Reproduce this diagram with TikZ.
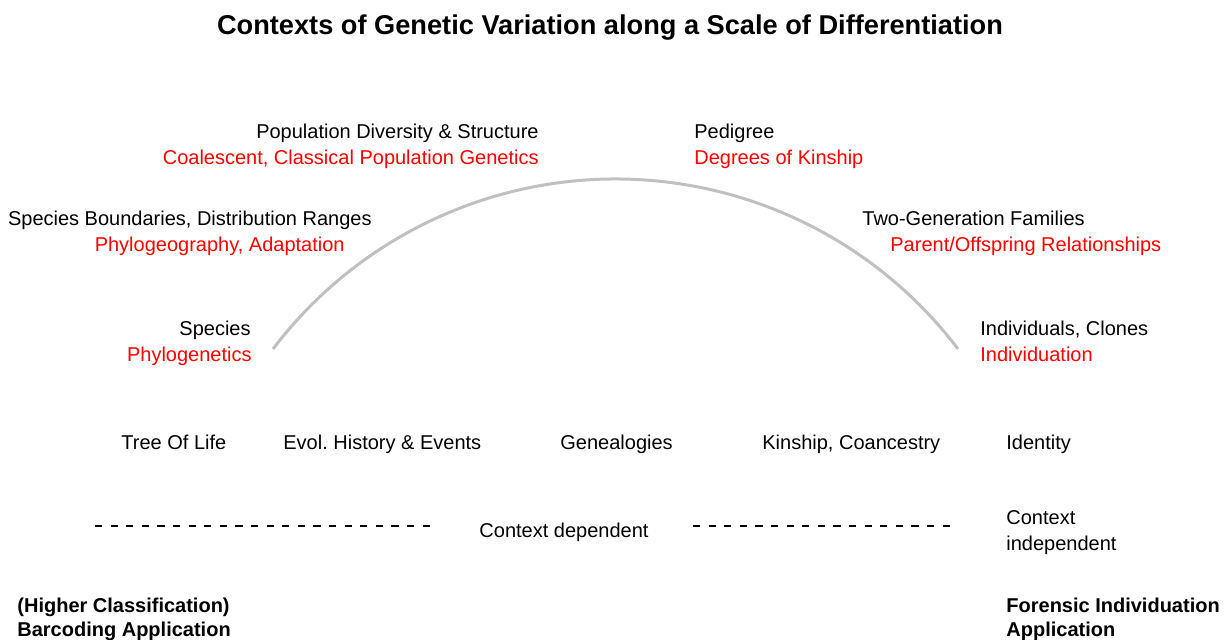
\documentclass[tikz,border=0pt]{standalone}
\usepackage{fontspec}
\setmainfont{Liberation Sans}
\frenchspacing
\definecolor{arcgray}{RGB}{192,192,192}
\definecolor{labred}{RGB}{255,0,0}
\tikzset{
  lbl/.style={inner sep=0pt},
  ctx/.style={lbl,text=labred},
  app/.style={lbl,font=\fontsize{10}{12}\selectfont\bfseries},
  ttlstyle/.style={lbl,font=\fontsize{13.6}{16}\selectfont\bfseries},
  arcline/.style={draw=arcgray,line width=1.5pt},
  dashline/.style={line width=0.55pt,dash pattern=on 3.6pt off 4.2pt},
}
\begin{document}
\begin{tikzpicture}[x=0.5pt,y=-0.5pt,font=\fontsize{10}{12}\selectfont]
	\useasboundingbox (0,0) rectangle (1227,640);
	\node[ttlstyle,anchor=base] (ttl) at (610,35) {Contexts of Genetic Variation along a Scale of Differentiation};
	% the arc
	\coordinate (arcL) at (273,349);
	\coordinate (arcR) at (958,349);
	\draw[arcline] (arcL) arc[start angle=142.8,end angle=37.2,radius=215pt];
	%===========================================
	\node[lbl,anchor=base east] (popdiv) at (539,139) {Population Diversity \& Structure};
	\node[ctx,anchor=base east] (coal) at (539,165) {Coalescent, Classical Population Genetics};
	\node[lbl,anchor=base east] (spbound) at (372,226) {Species Boundaries, Distribution Ranges};
	\node[ctx,anchor=base east] (phygeo) at (345,252) {Phylogeography, Adaptation};
	\node[lbl,anchor=base east] (species) at (251,336) {Species};
	\node[ctx,anchor=base east] (phygen) at (252,362) {Phylogenetics};
	\node[lbl,anchor=base west] (pedig) at (694,139) {Pedigree};
	\node[ctx,anchor=base west] (kinship) at (694,165) {Degrees of Kinship};
	\node[lbl,anchor=base west] (twogen) at (862,226) {Two-Generation Families};
	\node[ctx,anchor=base west] (parent) at (890,252) {Parent/Offspring Relationships};
	\node[lbl,anchor=base west] (indiv) at (980,336) {Individuals, Clones};
	\node[ctx,anchor=base west] (individ) at (980,362) {Individuation};
	%===========================================
	\foreach \txt/\xx/\nm in {Tree Of Life/121/tol,Evol. History \& Events/283/evol,Genealogies/560/geneal,{Kinship, Coancestry}/762/kinco,Identity/1006/ident}
		\node[lbl,anchor=base west] (\nm) at (\xx,450) {\txt};
	\coordinate (dA) at (95,526);  \coordinate (dB) at (432,526);
	\coordinate (dC) at (693,526); \coordinate (dD) at (955,526);
	\draw[dashline] (dA)--(dB);
	\draw[dashline] (dC)--(dD);
	\node[lbl,anchor=base] (ctxdep) at (564,538) {Context dependent};
	\node[lbl,anchor=base west] (ctxind) at (1006,525) {Context};
	\node[lbl,anchor=base west] (ctxind2) at (1006,551) {independent};
	%===========================================
	\node[app,anchor=base west] (barc) at (17,613) {(Higher Classification)};
	\node[app,anchor=base west] (barc2) at (17,637) {Barcoding Application};
	\node[app,anchor=base west] (foren) at (1006,613) {Forensic Individuation};
	\node[app,anchor=base west] (foren2) at (1006,637) {Application};
\end{tikzpicture}
\end{document}
